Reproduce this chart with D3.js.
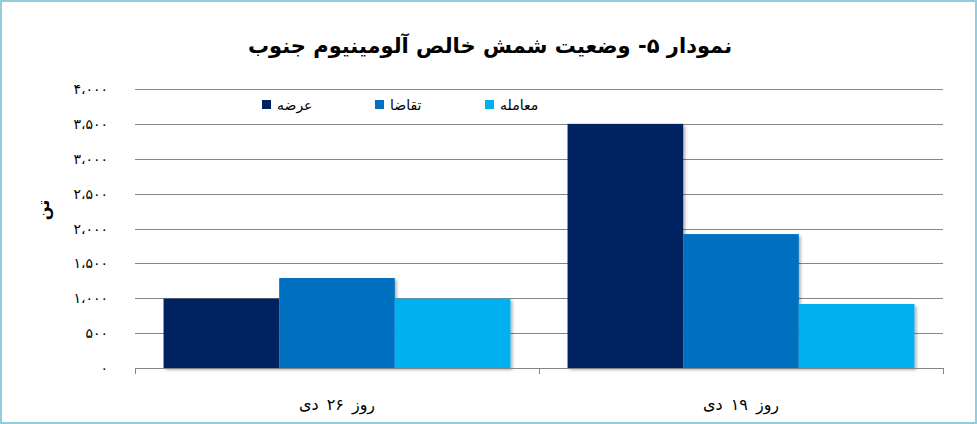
<!DOCTYPE html>
<html><head><meta charset="utf-8">
<script src="https://cdn.jsdelivr.net/npm/d3@7"></script>
<style>html,body{margin:0;padding:0;background:#fff;overflow:hidden}</style>
</head><body>
<svg id="c" width="977" height="424"></svg>
<script>
const categories = ["روز ۲۶ دی", "روز ۱۹ دی"];
const seriesNames = ["عرضه", "تقاضا", "معامله"];
const supply = [995, 3500];
const demand = [1290, 1920];
const traded = [995, 918];
const yTicks = [0, 500, 1000, 1500, 2000, 2500, 3000, 3500, 4000];
const yTickLabels = ["۰", "۵۰۰", "۱،۰۰۰", "۱،۵۰۰", "۲،۰۰۰", "۲،۵۰۰", "۳،۰۰۰", "۳،۵۰۰", "۴،۰۰۰"];
const colors = ["#002060", "#0070C0", "#00B0F0"];
const chartTitle = "نمودار ۵- وضعیت شمش خالص  آلومینیوم جنوب";
const yLabel = "تن";

const series = [supply, demand, traded];
const svg = d3.select("#c");
const font = "'DejaVu Sans', sans-serif";

const defs = svg.append("defs");
const f = defs.append("filter").attr("id","sh").attr("x","-10%").attr("y","-10%").attr("width","130%").attr("height","130%");
f.append("feDropShadow").attr("dx",2).attr("dy",2).attr("stdDeviation",1.5).attr("flood-color","#000").attr("flood-opacity",0.3);

svg.append("rect").attr("x",1).attr("y",1).attr("width",975).attr("height",422)
  .attr("fill","#fff").attr("stroke","#93CDDD").attr("stroke-width",2);

const pL = 135, pR = 943, pT = 89, pB = 368;
const x = d3.scaleBand().domain(categories).range([pL, pR]).paddingInner(0).paddingOuter(0);
const y = d3.scaleLinear().domain([0, 4000]).range([pB, pT]);
const xs = d3.scaleBand().domain(seriesNames).range([0, x.bandwidth()]).paddingOuter(0.247).paddingInner(0);

// gridlines
svg.append("g").selectAll("line").data(yTicks.filter(d=>d>0)).join("line")
  .attr("x1", pL).attr("x2", pR).attr("y1", d=>Math.round(y(d))+0.5).attr("y2", d=>Math.round(y(d))+0.5)
  .attr("stroke","#868686").attr("stroke-width",1);

// y tick labels
svg.append("g").selectAll("text").data(yTicks).join("text")
  .attr("x", 108).attr("y", d=>y(d)+5).attr("text-anchor","end")
  .attr("font-family", font).attr("font-size", 14).attr("letter-spacing", 3).attr("fill","#000")
  .attr("direction","ltr")
  .text((d,i)=>yTickLabels[i]);

// bars
const g = svg.append("g").attr("filter","url(#sh)");
categories.forEach((c, ci) => {
  series.forEach((s, si) => {
    g.append("rect")
      .attr("x", x(c) + xs(seriesNames[si]))
      .attr("width", xs.bandwidth())
      .attr("y", y(s[ci]))
      .attr("height", y(0) - y(s[ci]))
      .attr("fill", colors[si]);
  });
});

// x axis
const xa = svg.append("g").attr("transform", `translate(0,${pB})`);
xa.append("line").attr("x1",pL).attr("x2",pR).attr("y1",0.5).attr("y2",0.5).attr("stroke","#868686");
const bounds = [pL, pL + x.bandwidth(), pR];
xa.selectAll("line.t").data(bounds).join("line").attr("class","t")
  .attr("x1",d=>Math.round(d)+0.5).attr("x2",d=>Math.round(d)+0.5).attr("y1",0).attr("y2",6).attr("stroke","#868686");
svg.append("g").selectAll("text").data(categories).join("text")
  .attr("x", d=>x(d)+x.bandwidth()/2).attr("y", 410).attr("text-anchor","middle")
  .attr("font-family", font).attr("font-size", 16).attr("word-spacing", 3).attr("fill","#000").attr("direction","rtl")
  .text(d=>d);

// y label
svg.append("text").attr("transform","translate(49,210) rotate(-90)")
  .attr("text-anchor","middle").attr("font-family", font).attr("font-size", 16).attr("font-weight","bold")
  .text(yLabel);

// title
svg.append("text").attr("x", 490).attr("y", 53).attr("text-anchor","middle")
  .attr("font-family", font).attr("font-size", 21).attr("font-weight","bold").attr("direction","rtl")
  .text(chartTitle);

// legend
const legX = [262, 375, 485];
const leg = svg.append("g");
seriesNames.forEach((n,i)=>{
  leg.append("rect").attr("x",legX[i]).attr("y",100).attr("width",9).attr("height",9).attr("fill",colors[i]);
  leg.append("text").attr("x",legX[i]+15).attr("y",110).attr("text-anchor","start")
    .attr("font-family", font).attr("font-size",14).attr("fill","#000").text(n);
});
</script>
</body></html>
